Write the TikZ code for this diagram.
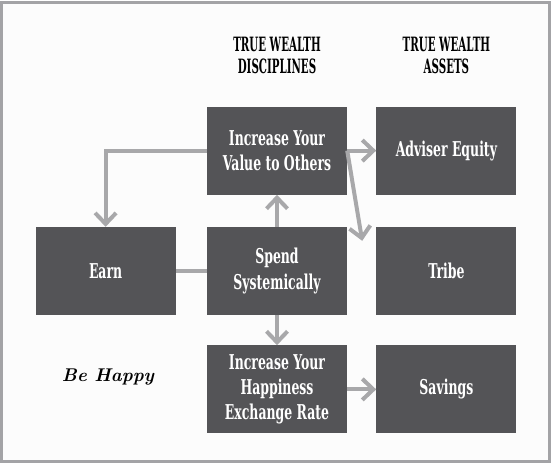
\documentclass[tikz,border=0pt]{standalone}
\usepackage{fontspec}
\newfontfamily\boxfont[FakeStretch=0.61]{DejaVu Serif}
\newfontfamily\headfont[FakeStretch=0.52]{DejaVu Serif}
\definecolor{boxgray}{HTML}{545457}
\definecolor{linegray}{HTML}{A8A8AA}
\definecolor{framegray}{HTML}{A3A3A6}
\definecolor{paper}{HTML}{FCFCFC}
\tikzset{
    box/.style={rectangle,fill=boxgray,text=white,align=center,inner sep=0pt,minimum width=140bp,minimum height=88bp,font=\boxfont\bfseries\fontsize{20.5}{25.5}\selectfont},
    header/.style={align=center,inner sep=0pt,font=\headfont\bfseries\fontsize{19.8}{23}\selectfont},
    motto/.style={inner sep=0pt,font=\bfseries\itshape\fontsize{18.5}{23}\selectfont},
    conn/.style={draw=linegray,line width=4bp},
}
\usetikzlibrary{positioning,arrows.meta,calc}

\begin{document}
\begin{tikzpicture}[x=1bp,y=-1bp,>={Straight Barb[length=11bp,width=21bp]}]
\useasboundingbox (0,0) rectangle (552,463);
\draw[framegray,line width=3bp,fill=paper] (1.5,2.5) rectangle (549,461);
\node[box](spend) at (277,271) {Spend\\Systemically};
\node[box](value) [above =32bp of spend] {Increase Your\\Value to Others};
\node[box](happy) [below =30bp of spend] {Increase Your\\Happiness\\Exchange Rate};
\node[box](earn) [left =31bp of spend] {Earn};
\node[box](tribe) [right =29bp of spend] {Tribe};
\node[box](equity) [right =29bp of value] {Adviser Equity};
\node[box](savings) [right =29bp of happy] {Savings};
\node[header](hdrDisc) [above =32bp of value] {TRUE WEALTH\\DISCIPLINES};
\node[header](hdrAsset) [above =32bp of equity] {TRUE WEALTH\\ASSETS};
\node[motto](motto) at (108,377) {Be Happy};
\coordinate (tribeTip) at ($(tribe.north west)+(-14,14)$);
\draw[conn,->] (value.west) -| (earn.north);
\draw[conn,->] (value.east) -- (equity.west);
\draw[conn,->] (value.east) -- (tribeTip);
\draw[conn,->] (spend.north) -- (value.south);
\draw[conn] (earn.east) -- (spend.west);
\draw[conn,->] (spend.south) -- (happy.north);
\draw[conn,->] (happy.east) -- (savings.west);
\end{tikzpicture}
\end{document}
